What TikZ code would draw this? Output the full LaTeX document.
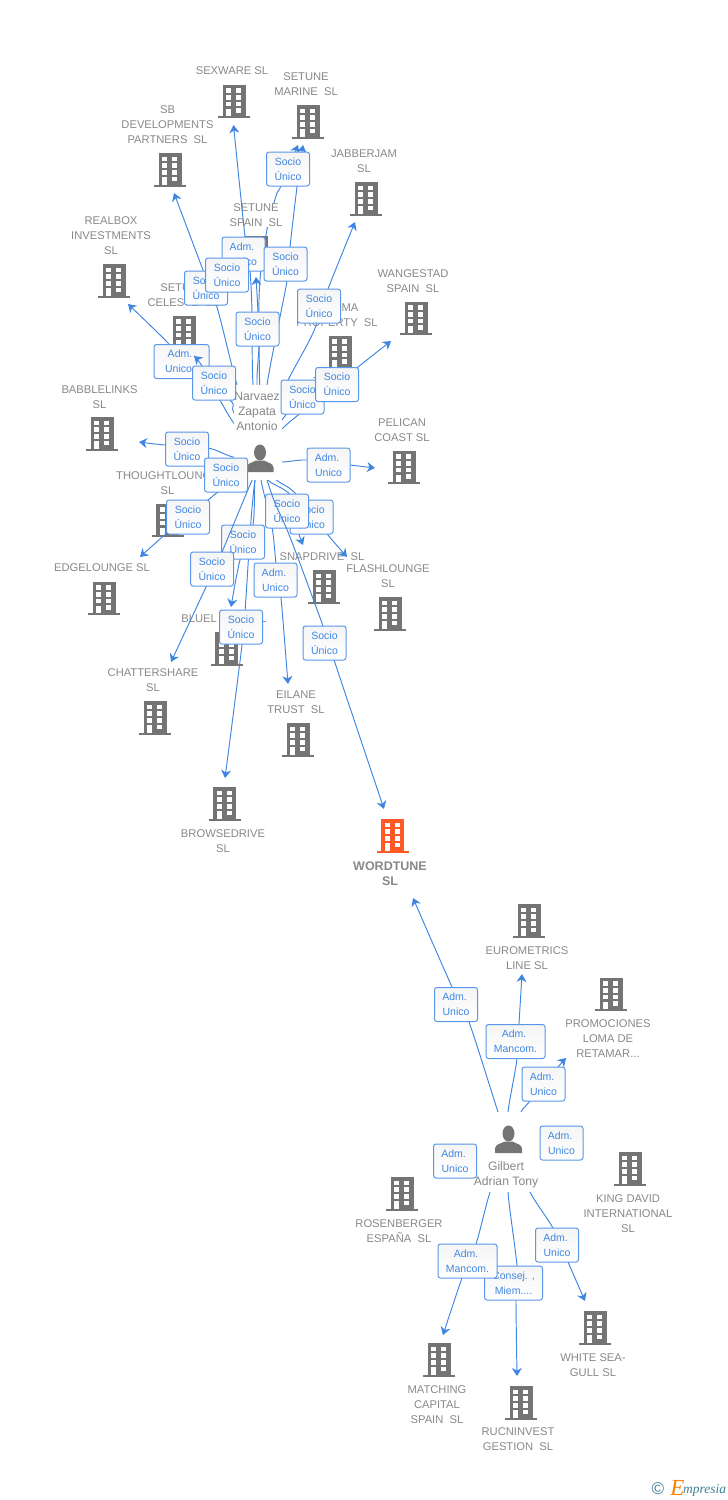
\documentclass[tikz,border=0pt]{standalone}
\usepackage{fontspec}
\setmainfont{Liberation Sans}
\newfontfamily\logofont{Liberation Serif}
\usetikzlibrary{arrows.meta}
\definecolor{lnk}{HTML}{3F86E2}
\definecolor{bd}{HTML}{5B97E8}
\definecolor{txt}{HTML}{888888}
\definecolor{bld}{HTML}{747474}
\definecolor{org}{HTML}{FF5A26}
\definecolor{teal2}{HTML}{3F7F95}
\pgfdeclarelayer{under}
\pgfdeclarelayer{bldg}
\pgfdeclarelayer{lines}
\pgfdeclarelayer{boxlow}
\pgfdeclarelayer{linesb}
\pgfdeclarelayer{mask}
\pgfsetlayers{under,bldg,lines,boxlow,linesb,mask,main}
\newcommand\admt{Adm.\kern3pt}
\tikzset{
  conn/.style={draw=lnk,line width=0.95pt,-{Stealth[length=8pt,width=10pt,inset=2.5pt]}},
  box/.style={draw=bd,line width=1pt,rounded corners=2.5pt,top color=black!4,bottom color=white,
     minimum width=43pt,minimum height=34pt,inner sep=0pt,align=center,text=lnk,
     font=\fontsize{10.5}{15}\selectfont},
  lab/.style={align=center,text=txt,inner sep=0pt,yshift=-0.8pt,font=\fontsize{11.2}{15}\selectfont},
  who/.style={align=center,text=txt,inner sep=0pt,yshift=-0.8pt,font=\fontsize{12.2}{15}\selectfont},
  maskbox/.style={fill=white,draw=none,inner sep=0pt},
  pics/bldg/.style={code={
    \fill[#1] (-11.5,-16.7) rectangle (11.5,15);
    \fill[#1] (-16,14.5) rectangle (16,16.7);
    \foreach \yy in {-13.3,-6.6,0}{
      \fill[white] (-7.8,\yy) rectangle (-2.8,\yy+4.6);
      \fill[white] (2.2,\yy) rectangle (7.2,\yy+4.6);}
    \fill[white] (2.2,6.7) rectangle (7.2,11.3);
    \fill[white] (-7.8,7.2) rectangle (-2.8,14.5);
  }},
  pics/person/.style={code={
    \fill[bld] (0,-7) ellipse (6 and 8);
    \fill[bld] (-13.5,12.5) -- (-13.5,8) .. controls (-13,3.5) and (-8,3.5) .. (-4,1) -- (4,1) .. controls (8,3.5) and (13,3.5) .. (13.5,8) -- (13.5,12.5) -- cycle;
  }}
}
\newcommand\lnkplot[1]{\draw[conn] plot[smooth,tension=0.5] coordinates {#1};}
\begin{document}
\begin{tikzpicture}[x=1pt,y=-1pt]
\useasboundingbox (0,0) rectangle (728,1500);
% anchors
\coordinate (p1c) at (261,460);
\coordinate (p2c) at (508,1141);
% tips
\coordinate (tsex) at (233.5,125);
\coordinate (tmarA) at (298,145);
\coordinate (tmarB) at (303,145);
\coordinate (tsb) at (174,193);
\coordinate (tjab) at (355,222);
\coordinate (treal) at (128,304);
\coordinate (tspain) at (256,277);
\coordinate (tcel) at (194,356);
\coordinate (twang) at (391,341);
\coordinate (tma) at (322,375);
\coordinate (tbab) at (139,442);
\coordinate (tpel) at (375,468);
\coordinate (tthou) at (212,486);
\coordinate (tedge) at (140,557);
\coordinate (tsnap) at (303,545);
\coordinate (tflash) at (347,557);
\coordinate (tblue) at (231,607);
\coordinate (tchat) at (171,662);
\coordinate (teil) at (288,684);
\coordinate (tbrow) at (225,778);
\coordinate (twordA) at (384,809);
\coordinate (twordB) at (413,898);
\coordinate (teuro) at (522,974);
\coordinate (tpromo) at (566,1058);
\coordinate (tmatch) at (443,1335);
\coordinate (truc) at (517,1376);
\coordinate (twhite) at (585,1301);
%
\begin{pgfonlayer}{under}
\lnkplot{(p1c) (259,300) (266,235) (276,196) (281,186) (tmarA)}
\end{pgfonlayer}
%
\begin{pgfonlayer}{bldg}
\pic at (234,101.5) {bldg=bld};
\pic at (308,122) {bldg=bld};
\pic at (170,170) {bldg=bld};
\pic at (366,199) {bldg=bld};
\pic at (114,281) {bldg=bld};
\pic at (256,253) {bldg=bld};
\pic at (184,332.5) {bldg=bld};
\pic at (416,318.5) {bldg=bld};
\pic at (340,352.5) {bldg=bld};
\pic at (102,434) {bldg=bld};
\pic at (404,467.5) {bldg=bld};
\pic at (167.5,520.5) {bldg=bld};
\pic at (104,598.5) {bldg=bld};
\pic at (324,587) {bldg=bld};
\pic at (390,614) {bldg=bld};
\pic at (226.5,649) {bldg=bld};
\pic at (155,718) {bldg=bld};
\pic at (298,740) {bldg=bld};
\pic at (224.5,804) {bldg=bld};
\pic at (392.5,836) {bldg=org};
\pic at (529,921) {bldg=bld};
\pic at (611,994.5) {bldg=bld};
\pic at (630,1169) {bldg=bld};
\pic at (402,1194) {bldg=bld};
\pic at (595,1328) {bldg=bld};
\pic at (439,1360) {bldg=bld};
\pic at (521,1403) {bldg=bld};
\node[lab] (lsex) at (232,70) {SEXWARE SL};
\node[lab] (lmar) at (306,83.5) {SETUNE\\MARINE\ \ SL};
\node[lab] (lsb) at (167.5,124) {SB\\DEVELOPMENTS\\PARTNERS\ \ SL};
\node[lab] (ljab) at (364,160.5) {JABBERJAM\\SL};
\node[lab] (lreal) at (111,235) {REALBOX\\INVESTMENTS\\SL};
\node[lab,fill=white,minimum width=56pt] (lspain) at (256,214.5) {SETUNE\\SPAIN\ \ SL};
\node[lab] (lcel) at (183,294.5) {SETUNE\\CELESTE\ \ SL};
\node[lab] (lwang) at (413,280.5) {WANGESTAD\\SPAIN\ \ SL};
\node[lab] (lma) at (350,307) {MA};
\node[lab] (lprop) at (337,322) {PROPERTY\ \ SL};
\node[lab] (lbab) at (99.5,396.5) {BABBLELINKS\\SL};
\node[lab] (lpel) at (402,429.5) {PELICAN\\COAST SL};
\node[lab] (lthou) at (167.5,482.5) {THOUGHTLOUNGE\\SL};
\node[lab] (ledge) at (102,567) {EDGELOUNGE SL};
\node[lab] (lsnap) at (322,556) {SNAPDRIVE\ \ SL};
\node[lab] (lflash) at (388,575.5) {FLASHLOUNGE\\SL};
\node[lab] (lblue) at (224,618) {BLUEL\hspace{36pt}SL};
\node[lab] (lchat) at (153,679.5) {CHATTERSHARE\\SL};
\node[lab] (leil) at (296,701.5) {EILANE\\TRUST\ \ SL};
\node[lab] (lbrow) at (223,840.5) {BROWSEDRIVE\\SL};
\node[lab,font=\fontsize{12.5}{15}\selectfont\bfseries] (lword) at (390,872.5) {WORDTUNE\\SL};
\node[lab] (leuro) at (527,957.5) {EUROMETRICS\\LINE SL};
\node[lab] (lpromo) at (608,1038) {PROMOCIONES\\LOMA DE\\RETAMAR...};
\node[lab] (lking) at (628,1213) {KING DAVID\\INTERNATIONAL\\SL};
\node[lab] (lros) at (399,1230.5) {ROSENBERGER\\ESPAÑA\ \ SL};
\node[lab] (lwhite) at (593,1364.5) {WHITE SEA-\\GULL SL};
\node[lab] (lmatch) at (437,1404) {MATCHING\\CAPITAL\\SPAIN\ \ SL};
\node[lab] (lruc) at (518,1438.5) {RUCNINVEST\\GESTION\ \ SL};
\end{pgfonlayer}
%
\begin{pgfonlayer}{lines}
\lnkplot{(p1c) (253,385) (252,312) (250,271) (245,237) (tsex)}
\lnkplot{(p1c) (267,385) (287,281) (290,247) (297,187) (tmarB)}
\lnkplot{(p1c) (237,385) (217,307) (203,270) (tsb)}
\lnkplot{(p1c) (282,393) (313,333) (328,289) (tjab)}
\lnkplot{(p1c) (234,413) (230,400) (181.5,361.5) (168,343) (treal)}
\lnkplot{(p1c) (257,385) (259,346) (258,312) (tspain)}
\lnkplot{(p1c) (282,429) (315,402) (358,367) (twang)}
\lnkplot{(p1c) (282,420) (302.5,397) (tma)}
\lnkplot{(p1c) (233,457) (208,448) (165,445) (tbab)}
\lnkplot{(p1c) (282,462) (307,460) (350,465) (tpel)}
\lnkplot{(p1c) (226,475) (tthou)}
\lnkplot{(p1c) (218,492) (208,500) (167,533) (tedge)}
\lnkplot{(p1c) (268,480) (290,495) (297,528) (tsnap)}
\lnkplot{(p1c) (275,479) (295,493) (328,535) (tflash)}
\lnkplot{(p1c) (255,480) (253,525) (240,560) (tblue)}
\lnkplot{(p1c) (261,480) (272,527) (276,563) (281,598) (teil)}
\lnkplot{(p1c) (255,480) (250.5,527) (246,597) (242,645) (tbrow)}
\lnkplot{(p2c) (498,1112) (469,1022) (452,987) (twordB)}
\lnkplot{(p2c) (508,1112) (517,1059) (519,1024) (teuro)}
\lnkplot{(p2c) (521,1112) (530,1101) (558,1067) (tpromo)}
\lnkplot{(p2c) (490,1192) (476,1244) (462,1278) (tmatch)}
\lnkplot{(p2c) (508,1192) (517,1266) (516,1300) (truc)}
\lnkplot{(p2c) (530,1192) (553,1228) (568,1262) (twhite)}
\end{pgfonlayer}
%
\begin{pgfonlayer}{boxlow}
\node[box,minimum width=55pt] (b181) at (181.5,361.5) {\admt\\Unico,.};
\node[box] (b311) at (311.5,517) {Socio\\Único};
\node[box] (b287) at (287,511) {Socio\\Único};
\node[box] (b243) at (243,542) {Socio\\Único};
\end{pgfonlayer}
%
\begin{pgfonlayer}{linesb}
\lnkplot{(p1c) (233,422) (220,400) (202,366) (tcel)}
\lnkplot{(p1c) (267,480) (275,503) (290,537) (323,626) (334,660) (twordA)}
\lnkplot{(p1c) (247,492) (222,552) (206,587) (tchat)}
\end{pgfonlayer}
%
\begin{pgfonlayer}{mask}
\node[maskbox,minimum width=48pt,minimum height=95pt] (p1) at (258,432.5) {};
\node[who] (p1t) at (257,411) {Narvaez\\Zapata\\Antonio};
\pic at (260,459.5) {person};
\node[maskbox,minimum width=71pt,minimum height=80pt] (p2) at (507.5,1152) {};
\node[who] (p2t) at (506,1174.5) {Gilbert\\Adrian Tony};
\pic at (508.5,1140.5) {person};
\end{pgfonlayer}
%
\node[box] (bam) at (243.5,254) {\admt\\Unico};
\node[box] (b206) at (206,288) {Socio\\Único};
\node[box] (b227) at (227,275) {Socio\\Único};
\node[box] (b288) at (288,169) {Socio\\Único};
\node[box] (b285) at (285.5,264) {Socio\\Único};
\node[box] (b257) at (257.5,329) {Socio\\Único};
\node[box] (b319) at (319,306) {Socio\\Único};
\node[box] (b214) at (214,383) {Socio\\Único};
\node[box] (b302) at (302.5,397) {Socio\\Único};
\node[box] (b337) at (337,384.5) {Socio\\Único};
\node[box] (b187) at (187,449) {Socio\\Único};
\node[box] (b226) at (226,475) {Socio\\Único};
\node[box] (b328) at (328.5,465) {\admt\\Unico};
\node[box] (b188) at (188,517) {Socio\\Único};
\node[box] (b212) at (212,569) {Socio\\Único};
\node[box] (b275) at (275.5,580) {\admt\\Unico};
\node[box] (b241) at (241,627) {Socio\\Único};
\node[box] (b324) at (324.5,643) {Socio\\Único};
\node[box] (c456) at (456,1004.5) {\admt\\Unico};
\node[box,minimum width=59pt] (c515) at (515.5,1041.5) {\admt\\Mancom.};
\node[box] (c543) at (543.5,1084) {\admt\\Unico};
\node[box] (c562) at (561.5,1143) {\admt\\Unico};
\node[box] (c455) at (455,1161) {\admt\\Unico};
\node[box] (c557) at (557,1245) {\admt\\Unico};
\node[box,minimum width=58pt] (c514) at (513.5,1283) {Consej. ,\\Miem....};
\node[box,minimum width=59pt] (c467) at (467.5,1261) {\admt\\Mancom.};
\node[text=teal2,inner sep=0pt,font=\fontsize{17}{17}\selectfont] (logoc) at (658,1489) {©};
\node[text=orange,inner sep=0pt,font=\logofont\itshape\fontsize{23}{23}\selectfont] (logoe) at (677.5,1488) {E};
\node[text=teal2,inner sep=0pt,font=\logofont\itshape\fontsize{13.5}{14}\selectfont] (logot) at (704.5,1490) {mpresia};
\end{tikzpicture}
\end{document}
